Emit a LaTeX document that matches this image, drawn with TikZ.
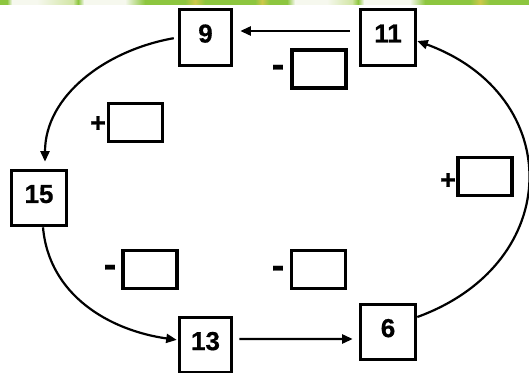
\documentclass[tikz,border=0pt]{standalone}
\usepackage{fontspec}
\setmainfont{Liberation Sans}
\newfontfamily\heavyfont[FakeBold=0.6]{Liberation Sans Bold}
\usetikzlibrary{arrows.meta,calc}
\definecolor{bandG}{RGB}{141,198,63}
\definecolor{bandW}{RGB}{246,248,238}
\definecolor{bandL}{RGB}{210,230,165}
\definecolor{bandY}{RGB}{205,200,75}
\newcommand{\bandseg}[4]{\shade[left color=#3,right color=#4] (#1,367) rectangle (#2,372);}
\begin{document}
\begin{tikzpicture}[x=1bp,y=1bp,
  numbox/.style={draw,line width=3.6bp,inner sep=0pt,text depth=8bp,
    font=\fontsize{26bp}{30bp}\selectfont\heavyfont},
  blankbox/.style={draw,line width=3.6bp,inner sep=0pt,minimum width=54bp,minimum height=38bp},
  minus/.style={inner sep=0pt,anchor=base,font=\fontsize{38bp}{42bp}\selectfont\heavyfont},
  plus/.style={inner sep=0pt,font=\fontsize{27bp}{31bp}\selectfont\heavyfont},
  conn/.style={line width=2.2bp,-{Triangle[length=10.5bp,width=9bp]}}]
\useasboundingbox (0,0) rectangle (529,372);
\fill[white] (0,0) rectangle (529,372);
% top band
\bandseg{0}{7}{bandG}{bandG}
\bandseg{7}{12}{bandG}{bandW}
\bandseg{12}{37}{bandW}{bandW}
\bandseg{37}{73}{bandW}{bandL}
\bandseg{73}{78}{bandL}{bandG}
\bandseg{78}{84}{bandG}{bandW}
\bandseg{84}{125}{bandW}{bandW}
\bandseg{125}{145}{bandW}{bandG}
\bandseg{145}{185}{bandG}{bandG}
\bandseg{185}{195}{bandG}{bandY}
\bandseg{195}{205}{bandY}{bandG}
\bandseg{205}{255}{bandG}{bandG}
\bandseg{255}{262}{bandG}{bandY}
\bandseg{262}{270}{bandY}{bandG}
\bandseg{270}{287}{bandG}{bandG}
\bandseg{287}{295}{bandG}{bandW}
\bandseg{295}{327}{bandW}{bandW}
\bandseg{327}{352}{bandW}{bandL}
\bandseg{352}{358}{bandL}{bandG}
\bandseg{358}{364}{bandG}{bandW}
\bandseg{364}{410}{bandW}{bandW}
\bandseg{410}{425}{bandW}{bandG}
\bandseg{425}{470}{bandG}{bandG}
\bandseg{470}{480}{bandG}{bandY}
\bandseg{480}{490}{bandY}{bandG}
\bandseg{490}{529}{bandG}{bandG}
% number boxes
\node[numbox,minimum width=52bp,minimum height=56bp] (b9)  at (205.5,334.5) {9};
\node[numbox,minimum width=55bp,minimum height=56bp] (b11) at (388,334.5) {11};
\node[numbox,minimum width=55bp,minimum height=55bp] (b15) at (39,174) {15};
\node[numbox,minimum width=52bp,minimum height=55bp] (b13) at (205.5,27) {13};
\node[numbox,minimum width=55bp,minimum height=55bp] (b6)  at (388,40) {6};
% blank boxes
\node[blankbox] (e1) at (319,303) {};
\node[blankbox] (e2) at (135.5,249.5) {};
\node[blankbox] (e3) at (150,102.5) {};
\node[blankbox] (e4) at (318.5,102.5) {};
\node[blankbox] (e5) at (485,195.5) {};
% signs
\node[minus] (s1) at (278,295) {-};
\node[plus] (s2) at (98,248) {+};
\node[minus] (s3) at (110,95) {-};
\node[minus] (s4) at (278,94) {-};
\node[plus] (s5) at (448,191) {+};
% connectors
\draw[conn,shorten <=9bp,shorten >=7bp] ([yshift=6.5bp]b11.west) -- ([yshift=6.5bp]b9.east);
\draw[conn,shorten <=4bp,shorten >=7bp] (b9.west) to[out=190,in=90] ([xshift=6bp]b15.north);
\draw[conn,shorten >=1bp] ([xshift=4bp]b15.south) to[out=-85,in=172] ([yshift=5bp]b13.west);
\draw[conn,shorten <=6bp,shorten >=6bp] ([yshift=6bp]b13.east) -- ([yshift=-7bp]b6.west);
\draw[conn] ([yshift=15bp]b6.east) .. controls +(148,54) and +(148,-54) .. ([yshift=-3.5bp]b11.east);
\end{tikzpicture}
\end{document}
